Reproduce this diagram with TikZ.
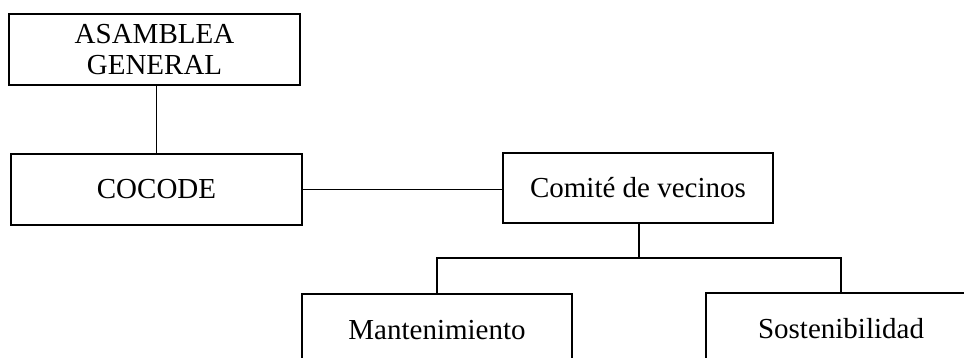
\documentclass[tikz,border=0pt]{standalone}
\usepackage{fontspec}
\setmainfont{Liberation Serif}
\begin{document}
\begin{tikzpicture}[x=1pt,y=-1pt,
  orgbox/.style={draw=black,line width=1.3pt,fill=white,align=center,inner sep=0pt,
    font=\fontsize{29}{31}\selectfont},
  link/.style={draw=black,line width=1.3pt}]
\useasboundingbox (0,0) rectangle (964,358);
\begin{scope}
\clip (0,0) rectangle (964,358);
\node[orgbox,minimum width=291pt,minimum height=71pt] (asamblea) at (154.5,49.5) {ASAMBLEA\\GENERAL};
\node[orgbox,minimum width=291pt,minimum height=71pt] (cocode) at (156.5,189.5) {COCODE};
\node[orgbox,minimum width=270pt,minimum height=70pt] (comite) at (638,188) {Comité de vecinos};
\node[orgbox,minimum width=270pt,minimum height=72pt] (mant) at (437,330) {Mantenimiento};
\node[orgbox,minimum width=270pt,minimum height=72pt] (sost) at (841,329) {Sostenibilidad};
\coordinate (j) at (639,258);
\draw[link] (cocode.north) -- (cocode.north |- asamblea.south);
\draw[link] (cocode.east) -- (cocode.east -| comite.west);
\draw[link] (comite.south -| j) -- (j);
\draw[link] (mant.north) -- (mant.north |- j) -- (sost.north |- j) -- (sost.north);
\end{scope}
\end{tikzpicture}
\end{document}
